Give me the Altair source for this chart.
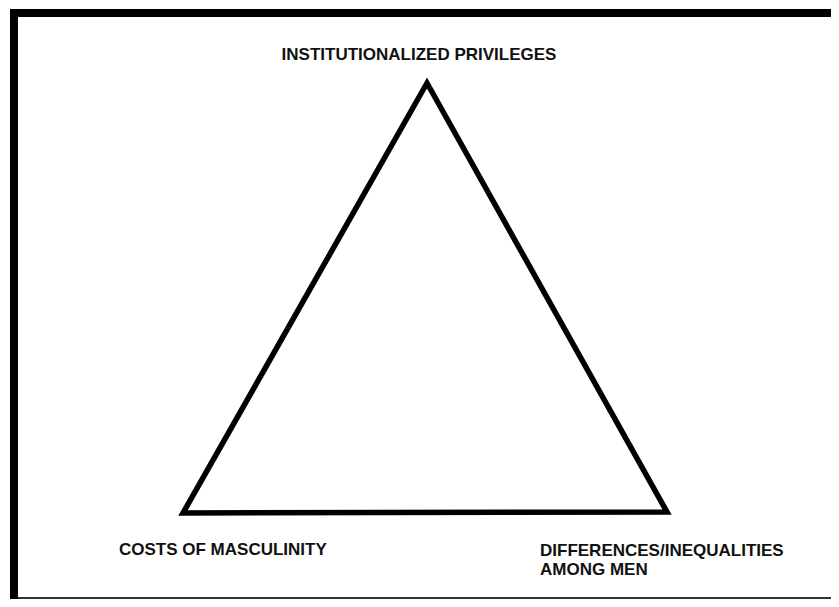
import altair as alt
import pandas as pd

# Triangle vertices (diagram units, y measured downward)
vertex_names = ["INSTITUTIONALIZED PRIVILEGES", "COSTS OF MASCULINITY", "DIFFERENCES/INEQUALITIES"]
vertex_x = [419, 175, 659]
vertex_y = [75, 505, 504]

# Labels
label_text = ["INSTITUTIONALIZED PRIVILEGES", "COSTS OF MASCULINITY",
              "DIFFERENCES/INEQUALITIES", "AMONG MEN"]
label_x = [411, 111, 532, 532]
label_y = [47, 542, 543, 562]
label_align = ["center", "left", "left", "left"]

W, H = 823, 591
xs = alt.Scale(domain=[0, W], range=[0, W])
ys = alt.Scale(domain=[0, H], range=[0, H])

# closed path: go around once more so every corner is a join
order = [0, 1, 2, 0, 1]
tri = pd.DataFrame({
    "i": list(range(len(order))),
    "x": [vertex_x[k] for k in order],
    "y": [vertex_y[k] for k in order],
})
labels = pd.DataFrame({"text": label_text, "x": label_x, "y": label_y, "align": label_align})
one = pd.DataFrame({"a": [0]})

triangle = alt.Chart(tri).mark_line(
    color="black", strokeWidth=5.5, strokeJoin="miter", strokeCap="butt"
).encode(
    x=alt.X("x:Q", scale=xs, axis=None),
    y=alt.Y("y:Q", scale=ys, axis=None),
    order="i:Q",
)

def text_layer(align):
    return alt.Chart(labels[labels["align"] == align]).mark_text(
        font="Liberation Sans", fontWeight="bold", fontSize=17, color="#111",
        align=align, baseline="middle",
    ).encode(
        x=alt.X("x:Q", scale=xs, axis=None),
        y=alt.Y("y:Q", scale=ys, axis=None),
        text="text:N",
    )

top_bar = alt.Chart(one).mark_rect(color="black").encode(
    x=alt.value(2), x2=alt.value(W), y=alt.value(1), y2=alt.value(9))
left_bar = alt.Chart(one).mark_rect(color="black").encode(
    x=alt.value(2), x2=alt.value(10), y=alt.value(1), y2=alt.value(H))
bottom_line = alt.Chart(one).mark_rule(color="#333", strokeWidth=2).encode(
    x=alt.value(10), x2=alt.value(W), y=alt.value(H - 1))

chart = alt.layer(
    top_bar, left_bar, bottom_line, triangle, text_layer("center"), text_layer("left")
).properties(
    width=W, height=H, padding=0, autosize=alt.AutoSizeParams(type="none"),
    background="white",
).configure_view(stroke=None)

chart.save("out.html", embed_options={"renderer": "svg", "actions": False})
